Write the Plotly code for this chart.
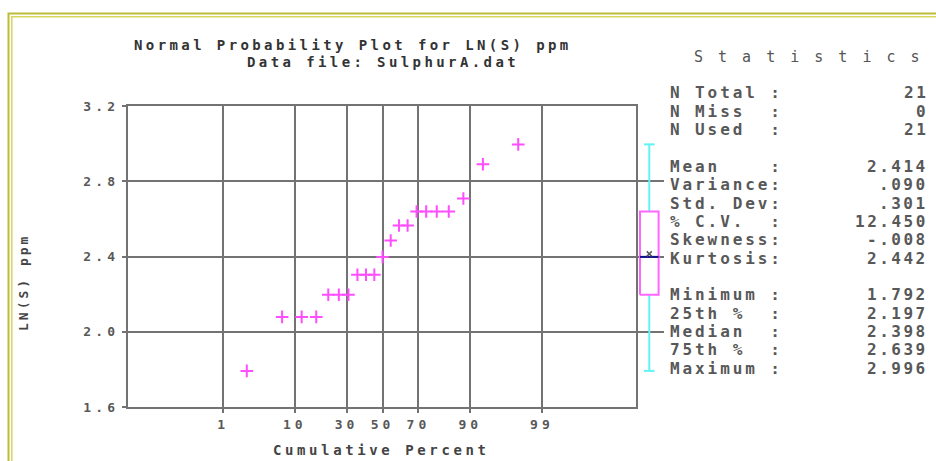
import plotly.graph_objects as go
from statistics import NormalDist

W, H = 936, 461

# probability-axis tick labels (cumulative percent) and value-axis ticks
pct_ticks = [1, 10, 30, 50, 70, 90, 99]
y_ticks = [1.6, 2.0, 2.4, 2.8, 3.2]

# sorted LN(S) ppm values and their cumulative percent plotting positions
ln_s = [1.792, 2.079, 2.079, 2.079, 2.197, 2.197, 2.197, 2.303, 2.303, 2.303,
        2.398, 2.485, 2.565, 2.565, 2.639, 2.639, 2.639, 2.639, 2.708, 2.890, 2.996]
cum_pct = [2.38, 7.14, 11.90, 16.67, 21.43, 26.19, 30.95, 35.71, 40.48, 45.24,
           50.00, 54.76, 59.52, 64.29, 69.05, 73.81, 78.57, 83.33, 88.10, 92.86, 97.62]

# summary statistics panel
stat_labels = ["N Total", "N Miss", "N Used",
               "Mean", "Variance", "Std. Dev", "% C.V.", "Skewness", "Kurtosis",
               "Minimum", "25th %", "Median", "75th %", "Maximum"]
stat_values = ["21", "0", "21",
               "2.414", ".090", ".301", "12.450", "-.008", "2.442",
               "1.792", "2.197", "2.398", "2.639", "2.996"]
stat_rows = [0, 1, 2, 4, 5, 6, 7, 8, 9, 11, 12, 13, 14, 15]

# box-plot summary
bx_min, bx_q1, bx_med, bx_q3, bx_max, bx_mean = 1.792, 2.197, 2.398, 2.639, 2.996, 2.414

nd = NormalDist()
z = lambda p: nd.inv_cdf(p / 100.0)

MONO = "DejaVu Sans Mono"
GRID = "#737373"
TXT = "#585858"
NBSP = "\u00a0"


def px(x):
    return x / W


def py(y):
    return 1 - y / H


def spaced(s, ls):
    return f'<span style="letter-spacing:{ls}px">{s}</span>'


fig = go.Figure()

# probability plot points
fig.add_trace(go.Scatter(
    x=[z(p) for p in cum_pct], y=ln_s, mode="markers",
    marker=dict(symbol="cross-thin", size=9, line=dict(color="#ff4dff", width=2)),
    xaxis="x", yaxis="y", showlegend=False, hoverinfo="skip"))

# box plot beside the panel (same value scale)
bc, cap, half = 13.3, 5.3, 9.3
fig.add_trace(go.Scatter(
    x=[bc, bc, None, bc, bc, None, bc - cap, bc + cap, None, bc - cap, bc + cap],
    y=[bx_q3, bx_max, None, bx_q1, bx_min, None, bx_max, bx_max, None, bx_min, bx_min],
    mode="lines", line=dict(color="#60f4f4", width=2),
    xaxis="x2", yaxis="y", showlegend=False, hoverinfo="skip", cliponaxis=False))
fig.add_trace(go.Scatter(
    x=[bc - half, bc + half, bc + half, bc - half, bc - half],
    y=[bx_q1, bx_q1, bx_q3, bx_q3, bx_q1],
    mode="lines", line=dict(color="#ff66ff", width=2),
    xaxis="x2", yaxis="y", showlegend=False, hoverinfo="skip", cliponaxis=False))
fig.add_trace(go.Scatter(
    x=[bc - half, bc + half], y=[bx_med, bx_med],
    mode="lines", line=dict(color="#101090", width=2),
    xaxis="x2", yaxis="y", showlegend=False, hoverinfo="skip", cliponaxis=False))
fig.add_trace(go.Scatter(
    x=[bc], y=[bx_mean], mode="markers",
    marker=dict(symbol="x-thin", size=5, line=dict(color="#555555", width=1.5)),
    xaxis="x2", yaxis="y", showlegend=False, hoverinfo="skip", cliponaxis=False))

fig.update_layout(
    width=W, height=H,
    margin=dict(l=0, r=0, t=0, b=0, autoexpand=False),
    paper_bgcolor="white", plot_bgcolor="white",
    xaxis=dict(
        domain=[px(128), px(636)], range=[-3.715, 3.70],
        tickmode="array", tickvals=[z(p) for p in pct_ticks],
        ticktext=[spaced(str(p), 4) for p in pct_ticks],
        showgrid=True, gridcolor=GRID, gridwidth=2, zeroline=False,
        showline=True, mirror=True, linecolor=GRID, linewidth=2,
        ticks="outside", ticklen=4, tickwidth=2, tickcolor=GRID,
        tickfont=dict(family=MONO, size=13, color=TXT, weight="bold"),
        automargin=False, fixedrange=True),
    yaxis=dict(
        domain=[py(407), py(106)], range=[1.6, 3.2],
        tickmode="array", tickvals=y_ticks,
        ticktext=[spaced(f"{v:.1f}", 4.2) for v in y_ticks],
        showgrid=True, gridcolor=GRID, gridwidth=2, zeroline=False,
        showline=True, mirror=True, linecolor=GRID, linewidth=2,
        ticks="outside", ticklen=4, tickwidth=2, tickcolor=GRID,
        tickfont=dict(family=MONO, size=13, color=TXT, weight="bold"),
        automargin=False, fixedrange=True),
    xaxis2=dict(domain=[px(636), px(664)], range=[0, 28], visible=False,
                anchor="y", automargin=False, fixedrange=True),
)

ann = []
# titles
ann.append(dict(x=px(353), y=py(45), text=spaced("Normal Probability Plot for LN(S) ppm", 3.4),
                xanchor="center",
                font=dict(family=MONO, size=14, color="#333333", weight="bold")))
ann.append(dict(x=px(383), y=py(62), text=spaced("Data file: SulphurA.dat", 3.4),
                xanchor="center",
                font=dict(family=MONO, size=14, color="#333333", weight="bold")))
ann.append(dict(x=px(381), y=py(450), text=spaced("Cumulative Percent", 3.6),
                xanchor="center",
                font=dict(family=MONO, size=14, color="#444444", weight="bold")))
ann.append(dict(x=px(23), y=py(283), text=spaced("LN(S) ppm", 3), textangle=-90,
                xanchor="center",
                font=dict(family=MONO, size=13, color="#444444", weight="bold")))
ann.append(dict(x=px(692), y=py(57), text=spaced("S t a t i s t i c s", 3), xanchor="left",
                font=dict(family=MONO, size=15, color="#555555")))

# statistics rows: label padded to a fixed column, then the colon
for lab, val, r in zip(stat_labels, stat_values, stat_rows):
    yy = py(93 + r * 18.35)
    row = lab.ljust(8).replace(" ", NBSP) + ":"
    ann.append(dict(x=px(668), y=yy, text=spaced(row, 2.9), xanchor="left",
                    font=dict(family=MONO, size=16, color=TXT, weight="bold")))
    ann.append(dict(x=px(930), y=yy, text=spaced(val, 2.5), xanchor="right",
                    font=dict(family=MONO, size=16, color=TXT, weight="bold")))

for a in ann:
    a.setdefault("xref", "paper")
    a.setdefault("yref", "paper")
    a.setdefault("showarrow", False)
    a.setdefault("yanchor", "middle")
fig.update_layout(annotations=ann)

# double window border
fig.add_shape(type="rect", xref="paper", yref="paper",
              x0=px(8.5), x1=1.2, y0=-0.2, y1=py(13.5),
              line=dict(color="#bcbc3a", width=2), fillcolor="rgba(0,0,0,0)", layer="above")
fig.add_shape(type="rect", xref="paper", yref="paper",
              x0=px(11.8), x1=1.2, y0=-0.2, y1=py(16.8),
              line=dict(color="#d6d65a", width=1.5), fillcolor="rgba(0,0,0,0)", layer="above")

fig.write_html("out.html")
